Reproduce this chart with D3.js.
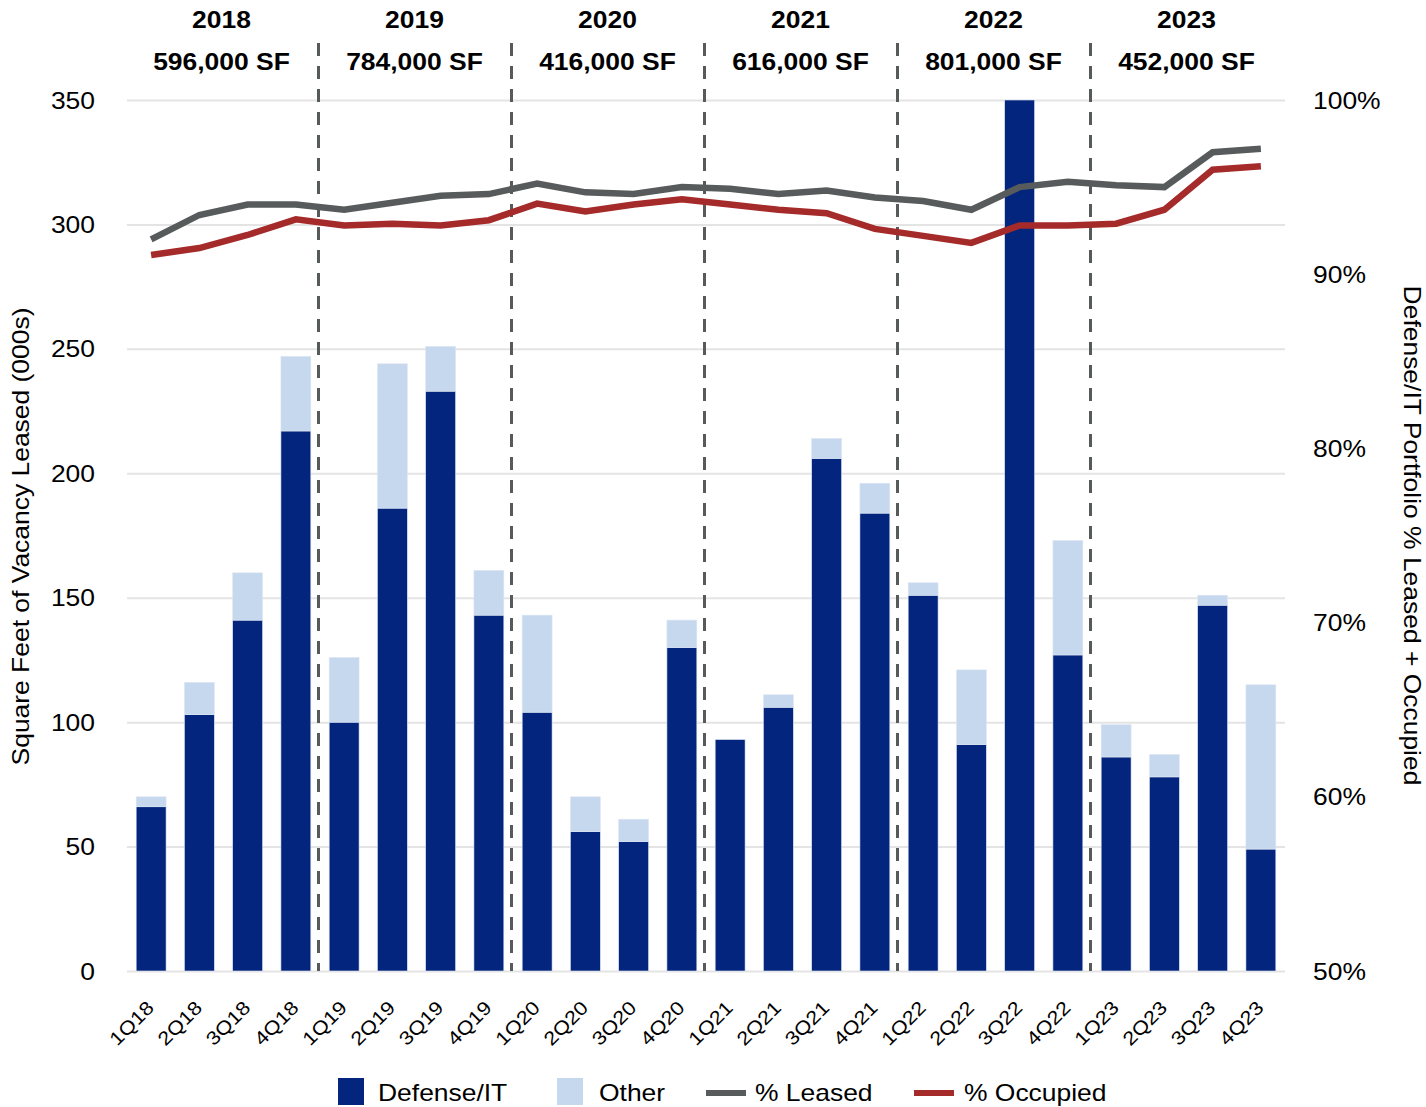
<!DOCTYPE html>
<html>
<head>
<meta charset="utf-8">
<script src="https://cdn.jsdelivr.net/npm/d3@7"></script>
<style>
  body { margin: 0; background: #fff; }
  svg { display: block; font-family: "Liberation Sans", Arial, sans-serif; }
</style>
</head>
<body>
<div id="chart"></div>
<script>
// data
const quarters = ["1Q18","2Q18","3Q18","4Q18","1Q19","2Q19","3Q19","4Q19","1Q20","2Q20","3Q20","4Q20",
                  "1Q21","2Q21","3Q21","4Q21","1Q22","2Q22","3Q22","4Q22","1Q23","2Q23","3Q23","4Q23"];
const defenseIT = [66, 103, 141, 217, 100, 186, 233, 143, 104, 56, 52, 130, 93, 106, 206, 184, 151, 91, 350, 127, 86, 78, 147, 49];
const other     = [4, 13, 19, 30, 26, 58, 18, 18, 39, 14, 9, 11, 0, 5, 8, 12, 5, 30, 0, 46, 13, 9, 4, 66];
const pctLeased   = [92.0, 93.4, 94.0, 94.0, 93.7, 94.1, 94.5, 94.6, 95.2, 94.7, 94.6, 95.0, 94.9, 94.6, 94.8, 94.4, 94.2, 93.7, 95.0, 95.3, 95.1, 95.0, 97.0, 97.2];
const pctOccupied = [91.1, 91.5, 92.25, 93.15, 92.8, 92.9, 92.8, 93.1, 94.05, 93.6, 94.0, 94.3, 94.0, 93.7, 93.5, 92.6, 92.2, 91.8, 92.8, 92.8, 92.9, 93.7, 96.0, 96.2];
const years = ["2018","2019","2020","2021","2022","2023"];
const yearTotals = ["596,000 SF","784,000 SF","416,000 SF","616,000 SF","801,000 SF","452,000 SF"];
const leftTicks = [0, 50, 100, 150, 200, 250, 300, 350];
const rightTicks = [50, 60, 70, 80, 90, 100];

const width = 1426;
const height = 1107;
const plotLeft = 127, plotRight = 1285, plotTop = 100, plotBottom = 971;
const SX = 1.15; // source text is a bit wider than Arial

const navy = "#03257e", light = "#c5d8ee", gray = "#575b5b", red = "#a52a2a";

const svg = d3.select("#chart").append("svg")
  .attr("width", width)
  .attr("height", height);

const x = d3.scaleBand().domain(quarters).range([plotLeft, plotRight])
  .paddingInner(0.38).paddingOuter(0.19);
const y = d3.scaleLinear().domain([0, 350]).range([plotBottom, plotTop]);
const yPct = d3.scaleLinear().domain([50, 100]).range([plotBottom, plotTop]);
const cx = q => x(q) + x.bandwidth() / 2;
const gap = (x.step() - x.bandwidth()) / 2;

// gridlines
const grid = svg.append("g")
  .attr("transform", `translate(${plotLeft},0)`)
  .call(d3.axisLeft(y).tickValues(leftTicks).tickSize(-(plotRight - plotLeft)).tickFormat(""));
grid.select(".domain").remove();
grid.selectAll("line").attr("stroke", "#e4e4e4").attr("stroke-width", 2);

// stacked bars
const table = quarters.map((q, i) => ({ q, defense: defenseIT[i], other: other[i] }));
const stack = d3.stack().keys(["defense", "other"])(table);
const colors = { defense: navy, other: light };

svg.append("g")
  .selectAll("g")
  .data(stack)
  .join("g")
  .attr("fill", d => colors[d.key])
  .selectAll("rect")
  .data(d => d.filter(s => s[1] > s[0]))
  .join("rect")
  .attr("x", d => x(d.data.q))
  .attr("width", x.bandwidth())
  .attr("y", d => y(d[1]))
  .attr("height", d => y(d[0]) - y(d[1]))
  .attr("stroke", "#dfe6f3")
  .attr("stroke-width", 0.6);

// year separators
const firstOfYear = years.slice(1).map(yr => quarters.find(q => q.endsWith(yr.slice(2))));
svg.append("g")
  .selectAll("line")
  .data(firstOfYear)
  .join("line")
  .attr("x1", d => x(d) - gap - 1.5)
  .attr("x2", d => x(d) - gap - 1.5)
  .attr("y1", 43)
  .attr("y2", plotBottom)
  .attr("stroke", "#575a5a")
  .attr("stroke-width", 3)
  .attr("stroke-dasharray", "13,10");

// year headers
const yearCenter = yr => {
  const qs = quarters.filter(q => q.endsWith(yr.slice(2)));
  return (cx(qs[0]) + cx(qs[qs.length - 1])) / 2;
};
const header = svg.append("g")
  .attr("font-weight", "bold")
  .attr("font-size", 23)
  .attr("text-anchor", "middle")
  .attr("fill", "#000");
header.selectAll(".yr")
  .data(years)
  .join("text")
  .attr("class", "yr")
  .attr("transform", d => `translate(${yearCenter(d) - 2},28) scale(${SX},1)`)
  .text(d => d);
header.selectAll(".tot")
  .data(years)
  .join("text")
  .attr("class", "tot")
  .attr("transform", d => `translate(${yearCenter(d) - 2},70) scale(${SX},1)`)
  .text((d, i) => yearTotals[i]);

// lines
const line = d3.line()
  .x((d, i) => cx(quarters[i]))
  .y(d => yPct(d));

svg.append("path")
  .datum(pctLeased)
  .attr("fill", "none")
  .attr("stroke", gray)
  .attr("stroke-width", 6.5)
  .attr("d", line);

svg.append("path")
  .datum(pctOccupied)
  .attr("fill", "none")
  .attr("stroke", red)
  .attr("stroke-width", 6.5)
  .attr("d", line);

// axes
function styleTicks(g, size) {
  g.select(".domain").remove();
  g.attr("font-family", null).attr("font-size", size);
  g.selectAll("text").attr("fill", "#000");
}

const yAxis = svg.append("g")
  .attr("transform", `translate(${plotLeft},0)`)
  .call(d3.axisLeft(y).tickValues(leftTicks).tickSize(0).tickPadding(0))
  .call(g => styleTicks(g, 23));
yAxis.selectAll("text")
  .attr("x", -32 / SX)
  .attr("dy", "0.35em")
  .attr("transform", `scale(${SX},1)`);

const yAxisR = svg.append("g")
  .attr("transform", `translate(${plotRight},0)`)
  .call(d3.axisRight(yPct).tickValues(rightTicks).tickFormat(d => d + "%").tickSize(0).tickPadding(0))
  .call(g => styleTicks(g, 23));
yAxisR.selectAll("text")
  .attr("x", 28 / SX)
  .attr("dy", "0.35em")
  .attr("transform", `scale(${SX},1)`);

const xAxis = svg.append("g")
  .attr("transform", `translate(0,${plotBottom})`)
  .call(d3.axisBottom(x).tickSize(0))
  .call(g => styleTicks(g, 19));
xAxis.selectAll("text")
  .attr("x", 0)
  .attr("y", 0)
  .attr("dy", 0)
  .attr("text-anchor", "end")
  .attr("transform", `translate(4,38) rotate(-45) scale(${SX},1)`);

// axis titles
svg.append("text")
  .attr("transform", `translate(29,${(plotTop + plotBottom) / 2 + 1}) rotate(-90) scale(${SX},1)`)
  .attr("text-anchor", "middle")
  .attr("font-size", 23)
  .text("Square Feet of Vacancy Leased (000s)");

svg.append("text")
  .attr("transform", `translate(1404,${(plotTop + plotBottom) / 2}) rotate(90) scale(${SX},1)`)
  .attr("text-anchor", "middle")
  .attr("font-size", 23)
  .text("Defense/IT Portfolio % Leased + Occupied");

// legend
const legendItems = [
  { label: "Defense/IT", type: "rect", color: navy, x: 338, tx: 378 },
  { label: "Other", type: "rect", color: light, x: 557, tx: 599 },
  { label: "% Leased", type: "line", color: gray, x: 706, tx: 755 },
  { label: "% Occupied", type: "line", color: red, x: 914, tx: 964 }
];
const legend = svg.append("g");
legend.selectAll("rect")
  .data(legendItems.filter(d => d.type === "rect"))
  .join("rect")
  .attr("x", d => d.x)
  .attr("y", 1078)
  .attr("width", 26)
  .attr("height", 27)
  .attr("fill", d => d.color);
legend.selectAll("line")
  .data(legendItems.filter(d => d.type === "line"))
  .join("line")
  .attr("x1", d => d.x)
  .attr("x2", d => d.x + 40)
  .attr("y1", 1093)
  .attr("y2", 1093)
  .attr("stroke", d => d.color)
  .attr("stroke-width", 6);
legend.selectAll("text")
  .data(legendItems)
  .join("text")
  .attr("transform", d => `translate(${d.tx},1101) scale(${SX},1)`)
  .attr("font-size", 23)
  .text(d => d.label);
</script>
</body>
</html>
